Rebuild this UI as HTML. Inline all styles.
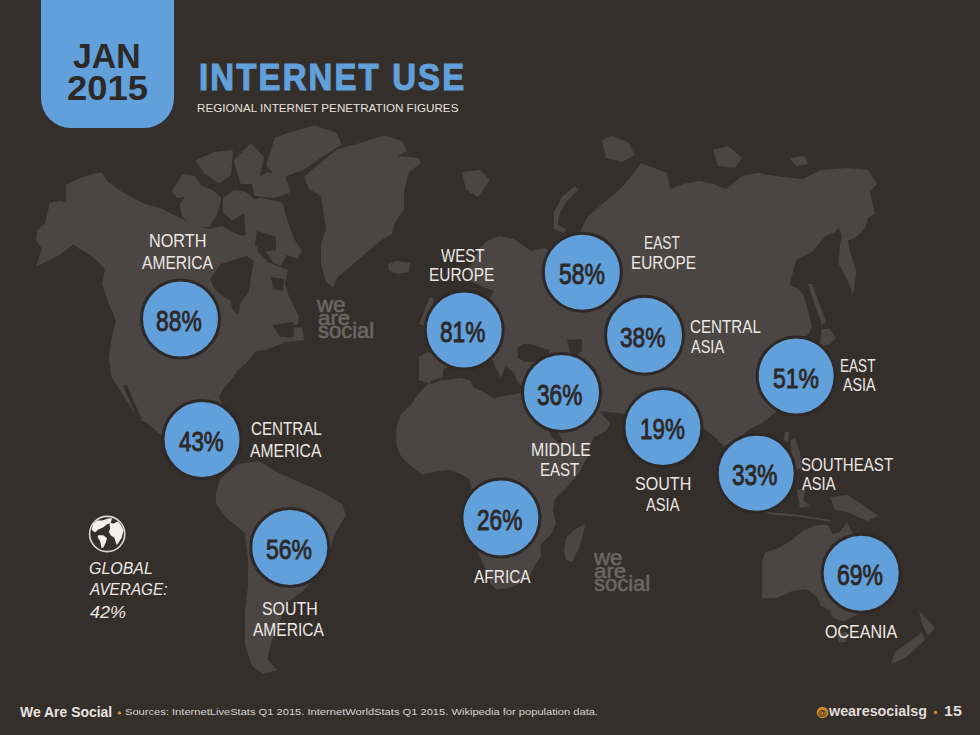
<!DOCTYPE html>
<html><head><meta charset="utf-8">
<style>
html,body{margin:0;padding:0;}
body{width:980px;height:735px;overflow:hidden;background:#352f2c;position:relative;font-family:"Liberation Sans",sans-serif;}
svg{position:absolute;left:0;top:0;}
.t{position:absolute;white-space:nowrap;transform-origin:0 0;line-height:1;}
</style></head>
<body>
<svg width="980" height="735" viewBox="0 0 980 735">
<polygon fill="#4b4643" points="36.0,266.8 42.0,249.0 36.0,240.0 37.5,229.4 45.0,223.4 48.0,211.4 49.5,202.4 60.0,201.0 65.9,202.4 65.9,184.5 79.4,178.5 92.9,174.0 101.9,172.5 107.8,181.5 119.8,190.4 130.0,196.4 145.0,204.0 160.0,208.0 176.0,216.0 193.0,225.0 209.0,229.0 222.0,226.0 230.0,231.0 242.0,236.0 255.0,232.0 258.0,252.0 268.0,262.0 288.0,270.0 285.0,284.0 288.0,294.0 293.5,306.0 299.0,316.0 298.0,324.0 290.0,326.0 285.0,337.0 300.0,340.0 304.0,339.0 283.0,343.0 266.0,350.0 256.0,351.0 246.0,363.0 237.0,371.0 231.0,380.0 223.0,389.0 219.0,397.0 228.0,420.0 234.0,418.0 232.0,428.0 225.0,432.0 222.0,445.0 218.0,465.0 222.0,472.0 216.0,471.0 205.0,460.0 190.0,450.0 175.0,442.0 161.0,435.0 146.0,422.0 138.0,420.0 131.0,407.0 121.0,392.0 111.5,377.0 109.0,358.0 111.5,338.0 116.0,321.0 109.0,304.0 102.0,284.0 104.9,269.8 98.9,262.3 89.9,254.8 79.4,248.8 73.4,244.3 60.0,254.8 48.0,260.8"/>
<polygon fill="#4b4643" points="289.0,328.0 302.0,327.0 304.0,340.0 292.0,341.0"/>
<polygon fill="#4b4643" points="304.0,177.0 314.0,168.0 326.0,158.0 338.0,149.0 357.0,144.0 373.0,139.0 385.0,135.5 402.0,141.0 407.0,151.0 397.0,156.0 419.0,158.0 421.0,163.0 409.0,172.0 404.0,191.0 404.0,210.0 395.0,222.0 392.0,234.0 380.0,241.0 366.0,253.0 352.0,265.0 338.0,277.0 333.0,287.0 326.0,282.0 321.0,263.0 321.0,244.0 326.0,229.0 323.0,210.0 321.0,196.0 309.0,189.0"/>
<polygon fill="#4b4643" stroke="#4b4643" stroke-width="3" stroke-linejoin="round" points="268.0,165.0 276.0,139.0 290.0,134.0 314.0,127.0 335.0,134.0 340.0,144.0 321.0,156.0 304.0,168.0 293.0,172.0 279.0,178.0"/>
<polygon fill="#4b4643" stroke="#4b4643" stroke-width="3" stroke-linejoin="round" points="247.0,203.0 261.0,199.0 281.0,204.0 286.0,221.0 293.0,240.0 300.0,251.0 297.0,257.0 286.0,253.0 280.0,264.0 274.0,261.0 269.0,253.0 260.0,244.0 247.0,233.0 246.0,219.0"/>
<polygon fill="#4b4643" stroke="#4b4643" stroke-width="4" stroke-linejoin="round" points="174.0,191.0 184.0,176.0 194.0,178.0 199.0,186.0 191.0,194.0 178.0,196.0"/>
<polygon fill="#4b4643" stroke="#4b4643" stroke-width="4" stroke-linejoin="round" points="182.0,205.0 191.0,192.0 202.0,188.0 212.0,192.0 219.0,199.0 215.0,214.0 208.0,225.0 194.0,225.0 184.0,216.0"/>
<polygon fill="#4b4643" stroke="#4b4643" stroke-width="4" stroke-linejoin="round" points="198.0,161.0 215.0,154.0 231.0,152.0 229.0,174.0 219.0,181.0 206.0,172.0"/>
<polygon fill="#4b4643" stroke="#4b4643" stroke-width="4" stroke-linejoin="round" points="236.0,161.0 251.0,146.0 262.0,158.0 256.0,182.0 242.0,182.0"/>
<polygon fill="#4b4643" stroke="#4b4643" stroke-width="4" stroke-linejoin="round" points="254.0,182.0 268.0,174.0 284.0,179.0 288.0,191.0 274.0,196.0 256.0,194.0"/>
<polygon fill="#4b4643" stroke="#4b4643" stroke-width="4" stroke-linejoin="round" points="225.0,199.0 234.0,192.0 245.0,194.0 254.0,201.0 245.0,211.0 232.0,218.0 225.0,211.0"/>
<polygon fill="#4b4643" stroke="#4b4643" stroke-width="3" stroke-linejoin="round" points="236.0,252.0 246.0,250.0 248.0,258.0 238.0,259.0"/>
<polygon fill="#4b4643" points="388.0,264.0 396.0,261.0 410.0,263.0 409.0,272.0 398.0,274.0 389.0,271.0"/>
<polygon fill="#4b4643" points="216.0,493.0 220.0,479.0 238.0,464.0 259.0,461.0 277.0,472.0 299.0,482.0 324.0,493.0 342.0,504.0 346.0,515.0 335.0,533.0 328.0,555.0 317.0,576.0 303.0,591.0 288.0,602.0 280.0,620.0 272.0,640.0 267.0,659.0 277.0,670.0 263.0,674.0 252.0,666.0 245.0,645.0 245.0,612.0 248.0,587.0 248.0,558.0 245.0,533.0 227.0,518.0 216.0,504.0"/>
<polygon fill="#4b4643" points="585.0,524.0 583.0,535.0 579.0,548.0 572.0,562.0 566.0,560.0 564.0,550.0 566.0,538.0 574.0,530.0"/>
<polygon fill="#4b4643" points="430.0,297.0 434.0,299.0 426.0,326.0 419.0,324.0"/>
<polygon fill="#4b4643" points="762.0,561.0 765.6,552.2 778.0,548.6 792.2,539.8 802.8,531.0 815.2,525.6 827.6,524.7 832.9,534.5 840.0,532.0 847.0,522.0 852.0,532.7 860.0,540.0 870.0,560.0 880.0,590.0 870.0,610.0 854.0,616.0 843.5,621.2 833.0,617.7 829.3,610.6 820.5,605.3 817.0,596.4 806.3,589.3 792.2,591.0 776.2,598.2 762.0,598.2"/>
<polygon fill="#4b4643" points="837.0,633.0 847.0,632.0 846.0,642.0 839.0,642.0"/>
<polygon fill="#4b4643" points="830.0,497.0 847.0,495.0 863.0,505.0 878.0,516.0 867.0,521.0 847.0,512.0 835.0,510.0"/>
<polygon fill="#4b4643" points="919.0,611.0 926.0,618.0 935.0,628.0 928.0,636.0 922.0,624.0"/>
<polygon fill="#4b4643" points="922.0,632.0 925.0,640.0 905.0,658.0 891.0,664.0 895.0,652.0 912.0,640.0"/>
<polygon fill="#4b4643" points="822.0,329.0 830.0,329.0 836.0,338.0 830.0,344.0 823.0,346.0 819.0,352.0 815.0,358.0 812.0,352.0 820.0,342.0"/>
<polygon fill="#4b4643" points="808.0,284.0 812.0,284.0 826.0,322.0 822.0,325.0"/>
<polygon fill="#4b4643" points="575.0,186.0 578.0,190.0 566.0,202.0 559.0,215.0 558.0,225.0 566.0,229.0 564.0,233.0 554.0,229.0 554.0,212.0 562.0,197.0"/>
<polygon fill="#4b4643" points="462.0,172.0 480.0,170.0 490.0,180.0 478.0,197.0 466.0,190.0"/>
<polygon fill="#4b4643" points="419.0,380.0 419.0,357.0 426.0,353.0 440.0,351.0 444.0,340.0 438.0,330.0 446.0,320.0 455.0,302.0 475.0,300.0 490.0,298.0 494.0,291.0 484.0,287.0 472.0,282.0 468.0,272.0 474.0,258.0 480.0,248.0 487.0,241.0 499.0,236.0 514.0,239.0 531.0,251.0 545.0,248.0 556.0,254.0 570.0,246.0 580.0,232.0 588.0,216.0 598.0,208.0 620.0,189.0 630.0,178.0 641.0,163.0 654.0,168.0 667.0,173.0 670.0,189.0 683.0,184.0 699.0,181.0 713.0,184.0 726.0,189.0 742.0,176.0 758.0,173.0 782.0,177.0 803.0,179.0 821.0,170.0 847.0,168.0 868.0,170.0 877.0,184.0 870.0,192.0 875.0,214.0 868.0,218.0 865.0,228.0 858.0,236.0 848.0,241.0 850.0,252.0 856.5,272.0 853.0,295.0 848.0,281.0 838.6,263.5 840.0,244.0 842.0,236.0 838.6,227.6 835.0,232.0 825.5,236.0 812.0,252.0 796.0,260.0 789.6,285.0 797.0,288.0 803.0,294.0 807.0,307.0 812.0,326.0 809.0,334.0 803.0,338.0 798.0,345.0 780.0,360.0 778.0,405.0 776.0,412.0 762.0,423.0 748.0,430.0 738.0,440.0 740.0,470.0 733.0,442.0 724.0,446.0 718.0,440.0 710.0,433.0 701.0,427.0 680.0,455.0 665.0,468.0 640.0,440.0 627.0,414.0 599.0,411.0 610.0,423.0 606.0,431.0 593.0,438.0 587.0,458.0 579.0,473.0 569.0,485.0 560.0,494.0 554.6,500.0 553.0,511.0 556.0,523.0 551.4,534.0 540.0,545.5 541.6,555.0 535.0,565.0 530.0,575.0 522.0,583.0 509.0,588.0 496.0,589.5 491.0,584.6 484.5,566.7 477.0,551.0 470.0,526.0 468.0,502.0 471.4,491.0 469.7,479.5 461.6,474.6 450.0,469.7 437.0,471.4 422.4,474.6 409.4,464.8 401.2,456.7 396.3,445.3 396.3,427.3 401.2,414.3 411.0,404.5 419.0,393.0 429.0,383.3"/>
<polygon fill="#4b4643" points="602.0,140.0 612.0,136.0 628.0,142.0 635.0,155.0 622.0,162.0 606.0,158.0"/>
<polygon fill="#4b4643" points="713.0,150.0 728.0,146.0 742.0,158.0 735.0,168.0 718.0,166.0"/>
<polygon fill="#4b4643" points="790.0,158.0 805.0,156.0 808.0,164.0 796.0,166.0"/>
<polygon fill="#4b4643" points="785.0,432.0 789.0,432.0 788.0,442.0 784.0,440.0"/>
<polygon fill="#4b4643" points="790.0,440.0 795.0,438.0 800.0,452.0 802.0,468.0 796.0,470.0 792.0,458.0"/>
<polygon fill="#4b4643" points="768.0,512.0 800.0,515.0 830.0,520.0 830.0,521.5 800.0,517.0 767.0,514.0"/>
<polygon fill="#4b4643" points="797.0,490.0 806.0,488.0 803.0,500.0 810.0,506.0 800.0,508.0"/>
<polygon fill="#352f2c" points="210.0,279.0 221.0,264.0 233.0,260.0 247.0,256.0 254.0,261.0 251.0,276.0 249.0,292.0 241.0,302.0 238.0,315.0 232.0,309.0 231.0,301.0 221.0,295.0 214.0,288.0"/>
<polygon fill="#352f2c" points="257.0,231.0 276.0,237.0 276.0,250.0 262.0,252.0 255.0,245.0"/>
<polygon fill="#352f2c" points="271.0,277.0 284.0,279.0 283.0,291.0 273.0,289.0"/>
<polygon fill="#352f2c" points="272.0,325.0 293.0,322.0 294.0,337.0 280.0,337.0"/>
<polygon fill="#352f2c" points="430.0,381.0 443.0,377.0 443.0,369.0 450.0,366.5 466.0,368.0 481.0,365.5 487.0,362.0 493.0,360.0 495.0,366.5 501.0,378.0 505.5,365.5 514.0,373.0 517.0,381.0 522.0,386.0 525.0,389.0 548.0,392.0 548.0,397.0 522.0,393.0 497.0,397.0 495.0,399.0 487.0,394.0 473.0,387.0 471.0,381.0 461.0,378.0 440.0,381.0 430.0,384.0"/>
<polygon fill="#352f2c" points="517.0,348.0 523.0,344.0 530.0,344.0 549.0,350.0 549.0,358.0 540.0,362.0 525.0,362.0 518.0,358.0"/>
<polygon fill="#352f2c" points="567.0,340.0 582.0,339.0 582.0,351.0 575.0,356.0 570.0,352.0"/>
<polygon fill="#352f2c" points="548.0,428.0 556.0,430.0 563.0,441.0 560.0,444.0 551.0,436.0"/>
<polygon fill="#352f2c" points="123.0,385.0 127.0,385.0 142.0,420.0 138.0,421.0"/>
<g transform="translate(85,512)">
<circle cx="22.2" cy="22" r="17.6" fill="none" stroke="#d9d5d2" stroke-width="1.6"/>
<path fill="#f2efec" d="M6.7,17.8 L8,12.2 L12.2,8.6 L17.1,8.4 L23.3,6.6 L27,6.2 L25.7,11 L22,12.2 L18.4,15.3 L12.9,17.8 L10.4,20.2 L8.6,19.6 Z"/>
<path fill="#f2efec" d="M12.9,23.3 L18.4,23.3 L22,26.3 L20.8,30.6 L18.4,35.5 L16.5,36.1 L15.3,29.4 L12.9,25.7 Z"/>
<path fill="#f2efec" d="M24.5,11 L28.8,11.6 L33,9.2 L36.7,14.1 L38.6,18.4 L36.7,25.7 L34.3,29.4 L31.8,33 L30.6,30 L29.4,25.7 L25.7,23.3 L23.9,20.2 L25.1,16.5 Z"/>
</g>
<circle cx="822.5" cy="712.5" r="5.8" fill="#c98a2a"/>
<text x="822.5" y="716" font-family="Liberation Sans" font-weight="bold" font-size="9" fill="#3a2a10" text-anchor="middle">@</text>
<circle cx="119.5" cy="713" r="1.7" fill="#d08c2c"/>
<circle cx="935.5" cy="712.5" r="1.7" fill="#d08c2c"/>

<path d="M41,0 H174 V98 A30,30 0 0 1 144,128 H71 A30,30 0 0 1 41,98 Z" fill="#61a0db"/>
<circle cx="180.5" cy="319" r="39" fill="#61a0db" stroke="#2e2927" stroke-width="3"/>
<circle cx="202" cy="439.4" r="39" fill="#61a0db" stroke="#2e2927" stroke-width="3"/>
<circle cx="289.8" cy="547.5" r="39" fill="#61a0db" stroke="#2e2927" stroke-width="3"/>
<circle cx="464.2" cy="329.9" r="39" fill="#61a0db" stroke="#2e2927" stroke-width="3"/>
<circle cx="582.3" cy="272.2" r="39" fill="#61a0db" stroke="#2e2927" stroke-width="3"/>
<circle cx="644.5" cy="335.2" r="39" fill="#61a0db" stroke="#2e2927" stroke-width="3"/>
<circle cx="561.5" cy="392.5" r="39" fill="#61a0db" stroke="#2e2927" stroke-width="3"/>
<circle cx="662.9" cy="427.6" r="39" fill="#61a0db" stroke="#2e2927" stroke-width="3"/>
<circle cx="500.9" cy="517.9" r="39" fill="#61a0db" stroke="#2e2927" stroke-width="3"/>
<circle cx="796.2" cy="375.9" r="39" fill="#61a0db" stroke="#2e2927" stroke-width="3"/>
<circle cx="756.2" cy="473.2" r="39" fill="#61a0db" stroke="#2e2927" stroke-width="3"/>
<circle cx="861.2" cy="573.2" r="39" fill="#61a0db" stroke="#2e2927" stroke-width="3"/>
</svg>
<div class="t" style="left:73.44px;top:39.16px;font-weight:bold;font-size:32px;color:#2e2927;transform:scale(1.0574,1.0682);">JAN</div>
<div class="t" style="left:66.90px;top:70.78px;font-weight:bold;font-size:33px;color:#2e2927;transform:scale(1.1042,1.0435);">2015</div>
<div class="t" style="left:198.67px;top:59.42px;font-weight:bold;font-size:38px;letter-spacing:2.5px;-webkit-text-stroke:1.2px #61a0db;color:#61a0db;transform:scale(0.8661,0.9690);">INTERNET USE</div>
<div class="t" style="left:197.33px;top:102.33px;font-size:12px;color:#e6e2de;transform:scale(0.9713,0.9667);">REGIONAL INTERNET PENETRATION FIGURES</div>
<div class="t" style="left:148.84px;top:232.48px;font-size:17px;color:#ece8e4;transform:scale(0.9552,1.0833);">NORTH</div>
<div class="t" style="left:142.20px;top:254.18px;font-size:17px;color:#ece8e4;transform:scale(0.9169,1.0833);">AMERICA</div>
<div class="t" style="left:440.50px;top:247.33px;font-size:17px;color:#ece8e4;transform:scale(0.8837,1.0833);">WEST</div>
<div class="t" style="left:429.39px;top:266.48px;font-size:17px;color:#ece8e4;transform:scale(0.9086,1.0833);">EUROPE</div>
<div class="t" style="left:644.09px;top:233.88px;font-size:17px;color:#ece8e4;transform:scale(0.8093,1.0833);">EAST</div>
<div class="t" style="left:630.80px;top:253.93px;font-size:17px;color:#ece8e4;transform:scale(0.9043,1.0833);">EUROPE</div>
<div class="t" style="left:250.61px;top:420.38px;font-size:17px;color:#ece8e4;transform:scale(0.8910,1.0833);">CENTRAL</div>
<div class="t" style="left:250.10px;top:441.58px;font-size:17px;color:#ece8e4;transform:scale(0.9208,1.0833);">AMERICA</div>
<div class="t" style="left:261.76px;top:600.08px;font-size:17px;color:#ece8e4;transform:scale(0.9351,1.0833);">SOUTH</div>
<div class="t" style="left:253.30px;top:620.88px;font-size:17px;color:#ece8e4;transform:scale(0.9143,1.0833);">AMERICA</div>
<div class="t" style="left:690.31px;top:318.48px;font-size:17px;color:#ece8e4;transform:scale(0.8936,1.0833);">CENTRAL</div>
<div class="t" style="left:691.20px;top:337.78px;font-size:17px;color:#ece8e4;transform:scale(0.8538,1.0833);">ASIA</div>
<div class="t" style="left:840.40px;top:357.23px;font-size:17px;color:#ece8e4;transform:scale(0.7977,1.0833);">EAST</div>
<div class="t" style="left:843.40px;top:376.28px;font-size:17px;color:#ece8e4;transform:scale(0.8410,1.0833);">ASIA</div>
<div class="t" style="left:530.67px;top:441.23px;font-size:17px;color:#ece8e4;transform:scale(0.9317,1.0833);">MIDDLE</div>
<div class="t" style="left:540.32px;top:461.13px;font-size:17px;color:#ece8e4;transform:scale(0.8837,1.0833);">EAST</div>
<div class="t" style="left:634.95px;top:475.48px;font-size:17px;color:#ece8e4;transform:scale(0.9456,1.0833);">SOUTH</div>
<div class="t" style="left:645.80px;top:496.33px;font-size:17px;color:#ece8e4;transform:scale(0.8641,1.0833);">ASIA</div>
<div class="t" style="left:801.31px;top:455.58px;font-size:17px;color:#ece8e4;transform:scale(0.8864,1.0833);">SOUTHEAST</div>
<div class="t" style="left:802.20px;top:475.48px;font-size:17px;color:#ece8e4;transform:scale(0.8641,1.0833);">ASIA</div>
<div class="t" style="left:473.60px;top:567.78px;font-size:17px;color:#ece8e4;transform:scale(0.9081,1.0833);">AFRICA</div>
<div class="t" style="left:824.76px;top:622.68px;font-size:17px;color:#ece8e4;transform:scale(0.9447,1.0833);">OCEANIA</div>
<div class="t" style="left:155.76px;top:306.70px;font-size:31px;-webkit-text-stroke:1px #2e2927;color:#2e2927;transform:scale(0.7361,0.9333);">88%</div>
<div class="t" style="left:178.90px;top:427.05px;font-size:31px;-webkit-text-stroke:1px #2e2927;color:#2e2927;transform:scale(0.7194,0.9167);">43%</div>
<div class="t" style="left:266.46px;top:535.06px;font-size:31px;-webkit-text-stroke:1px #2e2927;color:#2e2927;transform:scale(0.7410,0.9125);">56%</div>
<div class="t" style="left:440.17px;top:316.89px;font-size:31px;-webkit-text-stroke:1px #2e2927;color:#2e2927;transform:scale(0.7311,0.9708);">81%</div>
<div class="t" style="left:559.16px;top:258.96px;font-size:31px;-webkit-text-stroke:1px #2e2927;color:#2e2927;transform:scale(0.7410,0.9458);">58%</div>
<div class="t" style="left:620.17px;top:322.75px;font-size:31px;-webkit-text-stroke:1px #2e2927;color:#2e2927;transform:scale(0.7311,0.9167);">38%</div>
<div class="t" style="left:537.17px;top:379.96px;font-size:31px;-webkit-text-stroke:1px #2e2927;color:#2e2927;transform:scale(0.7311,0.9458);">36%</div>
<div class="t" style="left:639.76px;top:415.38px;font-size:31px;-webkit-text-stroke:1px #2e2927;color:#2e2927;transform:scale(0.7217,0.9417);">19%</div>
<div class="t" style="left:476.57px;top:505.68px;font-size:31px;-webkit-text-stroke:1px #2e2927;color:#2e2927;transform:scale(0.7311,0.9417);">26%</div>
<div class="t" style="left:773.46px;top:363.75px;font-size:31px;-webkit-text-stroke:1px #2e2927;color:#2e2927;transform:scale(0.7410,0.9167);">51%</div>
<div class="t" style="left:731.87px;top:460.68px;font-size:31px;-webkit-text-stroke:1px #2e2927;color:#2e2927;transform:scale(0.7295,0.9417);">33%</div>
<div class="t" style="left:836.86px;top:560.67px;font-size:31px;-webkit-text-stroke:1px #2e2927;color:#2e2927;transform:scale(0.7410,0.9417);">69%</div>
<div class="t" style="left:89.10px;top:561.18px;font-size:16px;font-style:italic;color:#ece8e4;transform:scale(0.9968,1.0167);">GLOBAL</div>
<div class="t" style="left:89.96px;top:582.38px;font-size:16px;font-style:italic;color:#ece8e4;transform:scale(0.9580,1.0250);">AVERAGE:</div>
<div class="t" style="left:89.80px;top:603.62px;font-size:16px;font-style:italic;color:#ece8e4;transform:scale(1.1250,1.0833);">42%</div>
<div class="t" style="left:19.60px;top:705.28px;font-weight:bold;font-size:13px;color:#e8e4e0;transform:scale(1.0729,1.1111);">We Are Social</div>
<div class="t" style="left:125.43px;top:707.00px;font-size:9.5px;color:#d8d4d0;transform:scale(1.1714,1.0000);">Sources: InternetLiveStats Q1 2015. InternetWorldStats Q1 2015. Wikipedia for population data.</div>
<div class="t" style="left:829.00px;top:703.83px;font-weight:bold;font-size:13px;color:#e0dcd8;transform:scale(1.1023,1.0833);">wearesocialsg</div>
<div class="t" style="left:943.77px;top:704.28px;font-weight:bold;font-size:13px;color:#e0dcd8;transform:scale(1.2308,1.1111);">15</div>
<div class="t" style="left:317.20px;top:292.85px;font-size:21px;-webkit-text-stroke:0.6px #6b6562;color:#6b6562;transform:scale(1.0593,1.0364);">we</div>
<div class="t" style="left:317.70px;top:307.00px;font-size:21px;-webkit-text-stroke:0.6px #6b6562;color:#6b6562;transform:scale(1.0600,1.0000);">are</div>
<div class="t" style="left:317.70px;top:319.52px;font-size:21px;-webkit-text-stroke:0.6px #6b6562;color:#6b6562;transform:scale(1.0472,1.0267);">social</div>
<div class="t" style="left:593.70px;top:545.85px;font-size:21px;-webkit-text-stroke:0.6px #6b6562;color:#6b6562;transform:scale(1.0593,1.0364);">we</div>
<div class="t" style="left:594.20px;top:560.00px;font-size:21px;-webkit-text-stroke:0.6px #6b6562;color:#6b6562;transform:scale(1.0600,1.0000);">are</div>
<div class="t" style="left:594.20px;top:572.52px;font-size:21px;-webkit-text-stroke:0.6px #6b6562;color:#6b6562;transform:scale(1.0472,1.0267);">social</div>
</body></html>
